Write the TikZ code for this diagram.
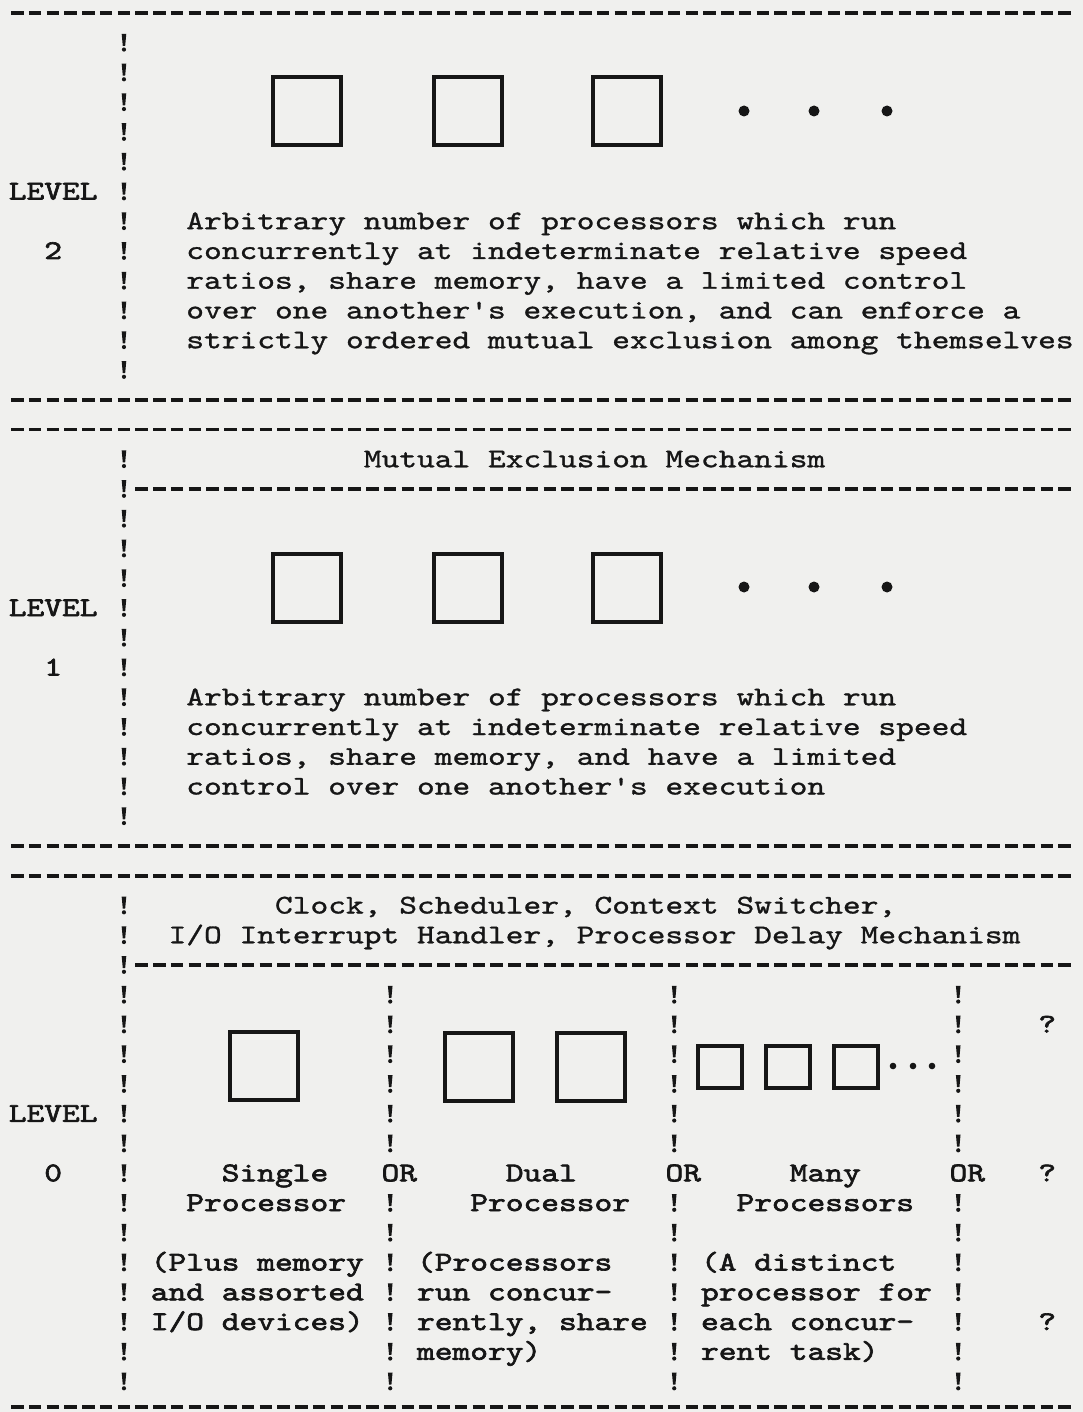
\documentclass[tikz,border=0pt]{standalone}
\usepackage{fontspec}
\definecolor{inkc}{HTML}{161616}
\definecolor{paper}{HTML}{F0F0EE}
\newfontfamily\twregfam{lmmono10-regular.otf}[FakeStretch=1.252,FakeBold=1.1]
\newfontfamily\twboldfam{lmmono10-regular.otf}[FakeStretch=1.252,FakeBold=2.4]
\newcommand\twreg{\twregfam\fontsize{27}{29.75}\selectfont}
\newcommand\twbold{\twboldfam\fontsize{27}{29.75}\selectfont}
\tikzset{
  txt/.style={font=\twreg, text=inkc, inner sep=0pt, anchor=base west},
  btxt/.style={txt, font=\twbold},
  procbox/.style={draw=inkc, line width=4pt, minimum size=68pt, inner sep=0pt},
  smallbox/.style={draw=inkc, line width=4pt, minimum width=44pt, minimum height=42pt, inner sep=0pt},
  bigdot/.style={circle, fill=inkc, minimum size=11pt, inner sep=0pt},
  smalldot/.style={circle, fill=inkc, minimum size=6.6pt, inner sep=0pt},
  typedash/.style={draw=inkc, line width=3.6pt, dash pattern=on 12.5pt off 5.25pt},
  bang/.pic={
    \fill[inkc] (-2.3,-8.8) -- (2.3,-8.8) -- (1.2,3.2) -- (-1.2,3.2) -- cycle;
    \fill[inkc] (0,6.8) circle[radius=2.1pt];
  }
}
% column left edge, column centre, row centre, row baseline
\newcommand\cl[1]{8.6+17.75*#1}
\newcommand\cc[1]{17.475+17.75*#1}
\newcommand\ry[1]{13+29.75*#1}
\newcommand\rb[1]{21+29.75*#1}
\begin{document}
\begin{tikzpicture}[x=1pt,y=-1pt]
\fill[paper] (0,0) rectangle (1083,1412);
\useasboundingbox (0,0) rectangle (1083,1412);

% ---------- full-width typed dash lines ----------
\foreach \r/\nm in {0/a,13/b,14/c,28/d,29/e}{
  \coordinate (dl\nm) at ({\cc{0}-6.25},{\ry{\r}});
  \coordinate (dr\nm) at ({\cc{59}+6.25},{\ry{\r}});
  \draw[typedash] (dl\nm) -- (dr\nm);
}
\coordinate (dlf) at ({\cc{0}-6.25},1407);
\coordinate (drf) at ({\cc{59}+6.25},1407);
\draw[typedash] (dlf) -- (drf);
% sub lines after "!"
\foreach \r/\nm in {16/s1,32/s0}{
  \coordinate (dl\nm) at ({\cc{7}-6.25},{\ry{\r}});
  \coordinate (dr\nm) at ({\cc{59}+6.25},{\ry{\r}});
  \draw[typedash] (dl\nm) -- (dr\nm);
}

% ---------- typed "!" dividers ----------
\foreach \k in {1,...,12,15,16,...,27,30,31,...,46}{
  \pic at ({\cc{6}},{\ry{\k}}) {bang};
}
\foreach \c in {21,37,53}{
  \foreach \k in {33,...,38,40,41,...,46}{
    \pic at ({\cc{\c}},{\ry{\k}}) {bang};
  }
}

% ---------- LEVEL 2 ----------
\node[procbox] (p2a) at (307,111) {};
\node[procbox] (p2b) at (467.5,111) {};
\node[procbox] (p2c) at (626.5,111) {};
\node[bigdot] (d2a) at (744,111) {};
\node[bigdot] (d2b) at (814,111) {};
\node[bigdot] (d2c) at (887,111) {};
\node[btxt] (lv2) at ({\cl{0}},{\rb{6}}) {LEVEL};
\node[btxt] (n2) at ({\cl{2}},{\rb{8}}) {2};
\node[txt] (t2a) at ({\cl{10}},{\rb{7}}) {Arbitrary number of processors which run};
\node[txt] (t2b) at ({\cl{10}},{\rb{8}}) {concurrently at indeterminate relative speed};
\node[txt] (t2c) at ({\cl{10}},{\rb{9}}) {ratios, share memory, have a limited control};
\node[txt] (t2d) at ({\cl{10}},{\rb{10}}) {over one another's execution, and can enforce a};
\node[txt] (t2e) at ({\cl{10}},{\rb{11}}) {strictly ordered mutual exclusion among themselves};

% ---------- LEVEL 1 ----------
\node[txt] (mut) at ({\cl{20}},{\rb{15}}) {Mutual Exclusion Mechanism};
\node[procbox] (p1a) at (307,587.5) {};
\node[procbox] (p1b) at (467.5,587.5) {};
\node[procbox] (p1c) at (626.5,587.5) {};
\node[bigdot] (d1a) at (744,587) {};
\node[bigdot] (d1b) at (814,587) {};
\node[bigdot] (d1c) at (887,587) {};
\node[btxt] (lv1) at ({\cl{0}},{\rb{20}}) {LEVEL};
\node[btxt] (n1) at ({\cl{2}},{\rb{22}}) {1};
\node[txt] (t1a) at ({\cl{10}},{\rb{23}}) {Arbitrary number of processors which run};
\node[txt] (t1b) at ({\cl{10}},{\rb{24}}) {concurrently at indeterminate relative speed};
\node[txt] (t1c) at ({\cl{10}},{\rb{25}}) {ratios, share memory, and have a limited};
\node[txt] (t1d) at ({\cl{10}},{\rb{26}}) {control over one another's execution};

% ---------- LEVEL 0 ----------
\node[txt] (clk) at ({\cl{15}},{\rb{30}}) {Clock, Scheduler, Context Switcher,};
\node[txt] (ioh) at ({\cl{9}},{\rb{31}}) {I/O Interrupt Handler, Processor Delay Mechanism};
\node[btxt] (lv0) at ({\cl{0}},{\rb{37}}) {LEVEL};
\node[btxt] (n0) at ({\cl{2}},{\rb{39}}) {0};

\node[procbox] (p0a) at (264,1066) {};
\node[procbox] (p0b) at (478.5,1067) {};
\node[procbox] (p0c) at (590.5,1067) {};
\node[smallbox] (q0a) at (719.5,1067) {};
\node[smallbox] (q0b) at (788,1067) {};
\node[smallbox] (q0c) at (856,1067) {};
\node[smalldot] (d0a) at (893,1066) {};
\node[smalldot] (d0b) at (913,1066) {};
\node[smalldot] (d0c) at (932,1066) {};

\node[btxt] (sgl) at ({\cl{12}},{\rb{39}}) {Single};
\node[btxt] (or1) at ({\cl{21}},{\rb{39}}) {OR};
\node[btxt] (dul) at ({\cl{28}},{\rb{39}}) {Dual};
\node[btxt] (or2) at ({\cl{37}},{\rb{39}}) {OR};
\node[btxt] (mny) at ({\cl{44}},{\rb{39}}) {Many};
\node[btxt] (or3) at ({\cl{53}},{\rb{39}}) {OR};
\node[btxt] (pr1) at ({\cl{10}},{\rb{40}}) {Processor};
\node[btxt] (pr2) at ({\cl{26}},{\rb{40}}) {Processor};
\node[btxt] (pr3) at ({\cl{41}},{\rb{40}}) {Processors};

\node[btxt] (a1) at ({\cl{8}},{\rb{42}}) {(Plus memory};
\node[btxt] (a2) at ({\cl{8}},{\rb{43}}) {and assorted};
\node[btxt] (a3) at ({\cl{8}},{\rb{44}}) {I/O devices)};
\node[btxt] (b1) at ({\cl{23}},{\rb{42}}) {(Processors};
\node[btxt] (b2) at ({\cl{23}},{\rb{43}}) {run concur-};
\node[btxt] (b3) at ({\cl{23}},{\rb{44}}) {rently, share};
\node[btxt] (b4) at ({\cl{23}},{\rb{45}}) {memory)};
\node[btxt] (c1) at ({\cl{39}},{\rb{42}}) {(A distinct};
\node[btxt] (c2) at ({\cl{39}},{\rb{43}}) {processor for};
\node[btxt] (c3) at ({\cl{39}},{\rb{44}}) {each concur-};
\node[btxt] (c4) at ({\cl{39}},{\rb{45}}) {rent task)};

\node[btxt] (q1) at ({\cl{58}},{\rb{34}}) {?};
\node[btxt] (q2) at ({\cl{58}},{\rb{39}}) {?};
\node[btxt] (q3) at ({\cl{58}},{\rb{44}}) {?};
\end{tikzpicture}
\end{document}
